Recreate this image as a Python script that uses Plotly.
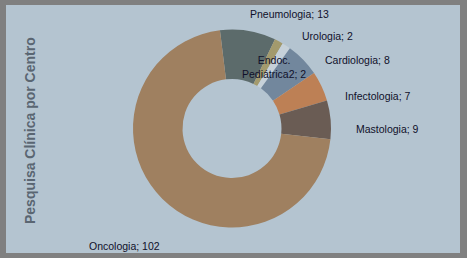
import plotly.graph_objects as go

categories = ["Pneumologia", "Urologia", "Endoc. Pediátrica2", "Cardiologia", "Infectologia", "Mastologia", "Oncologia"]
values = [13, 2, 2, 8, 7, 9, 102]
colors = ["#5c6b6b", "#a39a6d", "#c6d1d9", "#72879d", "#bd8055", "#6a5c54", "#9f8060"]
label_texts = ["Pneumologia; 13", "Urologia; 2", "Endoc.<br>Pediátrica2; 2", "Cardiologia; 8",
               "Infectologia; 7", "Mastologia; 9", "Oncologia; 102"]
# label anchor positions in pixels (x, y from top)
label_pos = [(289, 14), (327, 36), (274, 67), (357, 60), (378, 96), (387, 129), (124, 246)]
title = "Pesquisa Clínica por Centro"

W, H = 467, 258
cx, cy, r = 232, 128.5, 99

fig = go.Figure(go.Pie(
    labels=categories, values=values, sort=False, direction="clockwise",
    rotation=-7, hole=0.5, textinfo="none", hoverinfo="label+value",
    marker=dict(colors=colors, line=dict(width=0)),
    domain=dict(x=[(cx - r) / W, (cx + r) / W], y=[(H - cy - r) / H, (H - cy + r) / H]),
    showlegend=False,
))

fig.add_shape(type="rect", xref="paper", yref="paper",
              x0=6 / W, x1=460 / W, y0=5 / H, y1=(H - 5) / H,
              fillcolor="#b4c4d0", line=dict(width=0), layer="below")

for t, (px, py) in zip(label_texts, label_pos):
    fig.add_annotation(text=t, x=px / W, y=(H - py) / H, xref="paper", yref="paper",
                       showarrow=False, xanchor="center", yanchor="middle",
                       font=dict(family="Liberation Sans", size=10.5, color="#10102a"))

fig.add_annotation(text="<b>" + title + "</b>", x=30 / W, y=(H - 131) / H, xref="paper", yref="paper",
                   showarrow=False, textangle=-90, xanchor="center", yanchor="middle",
                   font=dict(family="Liberation Sans", size=14, color="#5a6672"))

fig.update_layout(width=W, height=H, margin=dict(l=0, r=0, t=0, b=0),
                  paper_bgcolor="#808080")
fig.write_html("out.html")
